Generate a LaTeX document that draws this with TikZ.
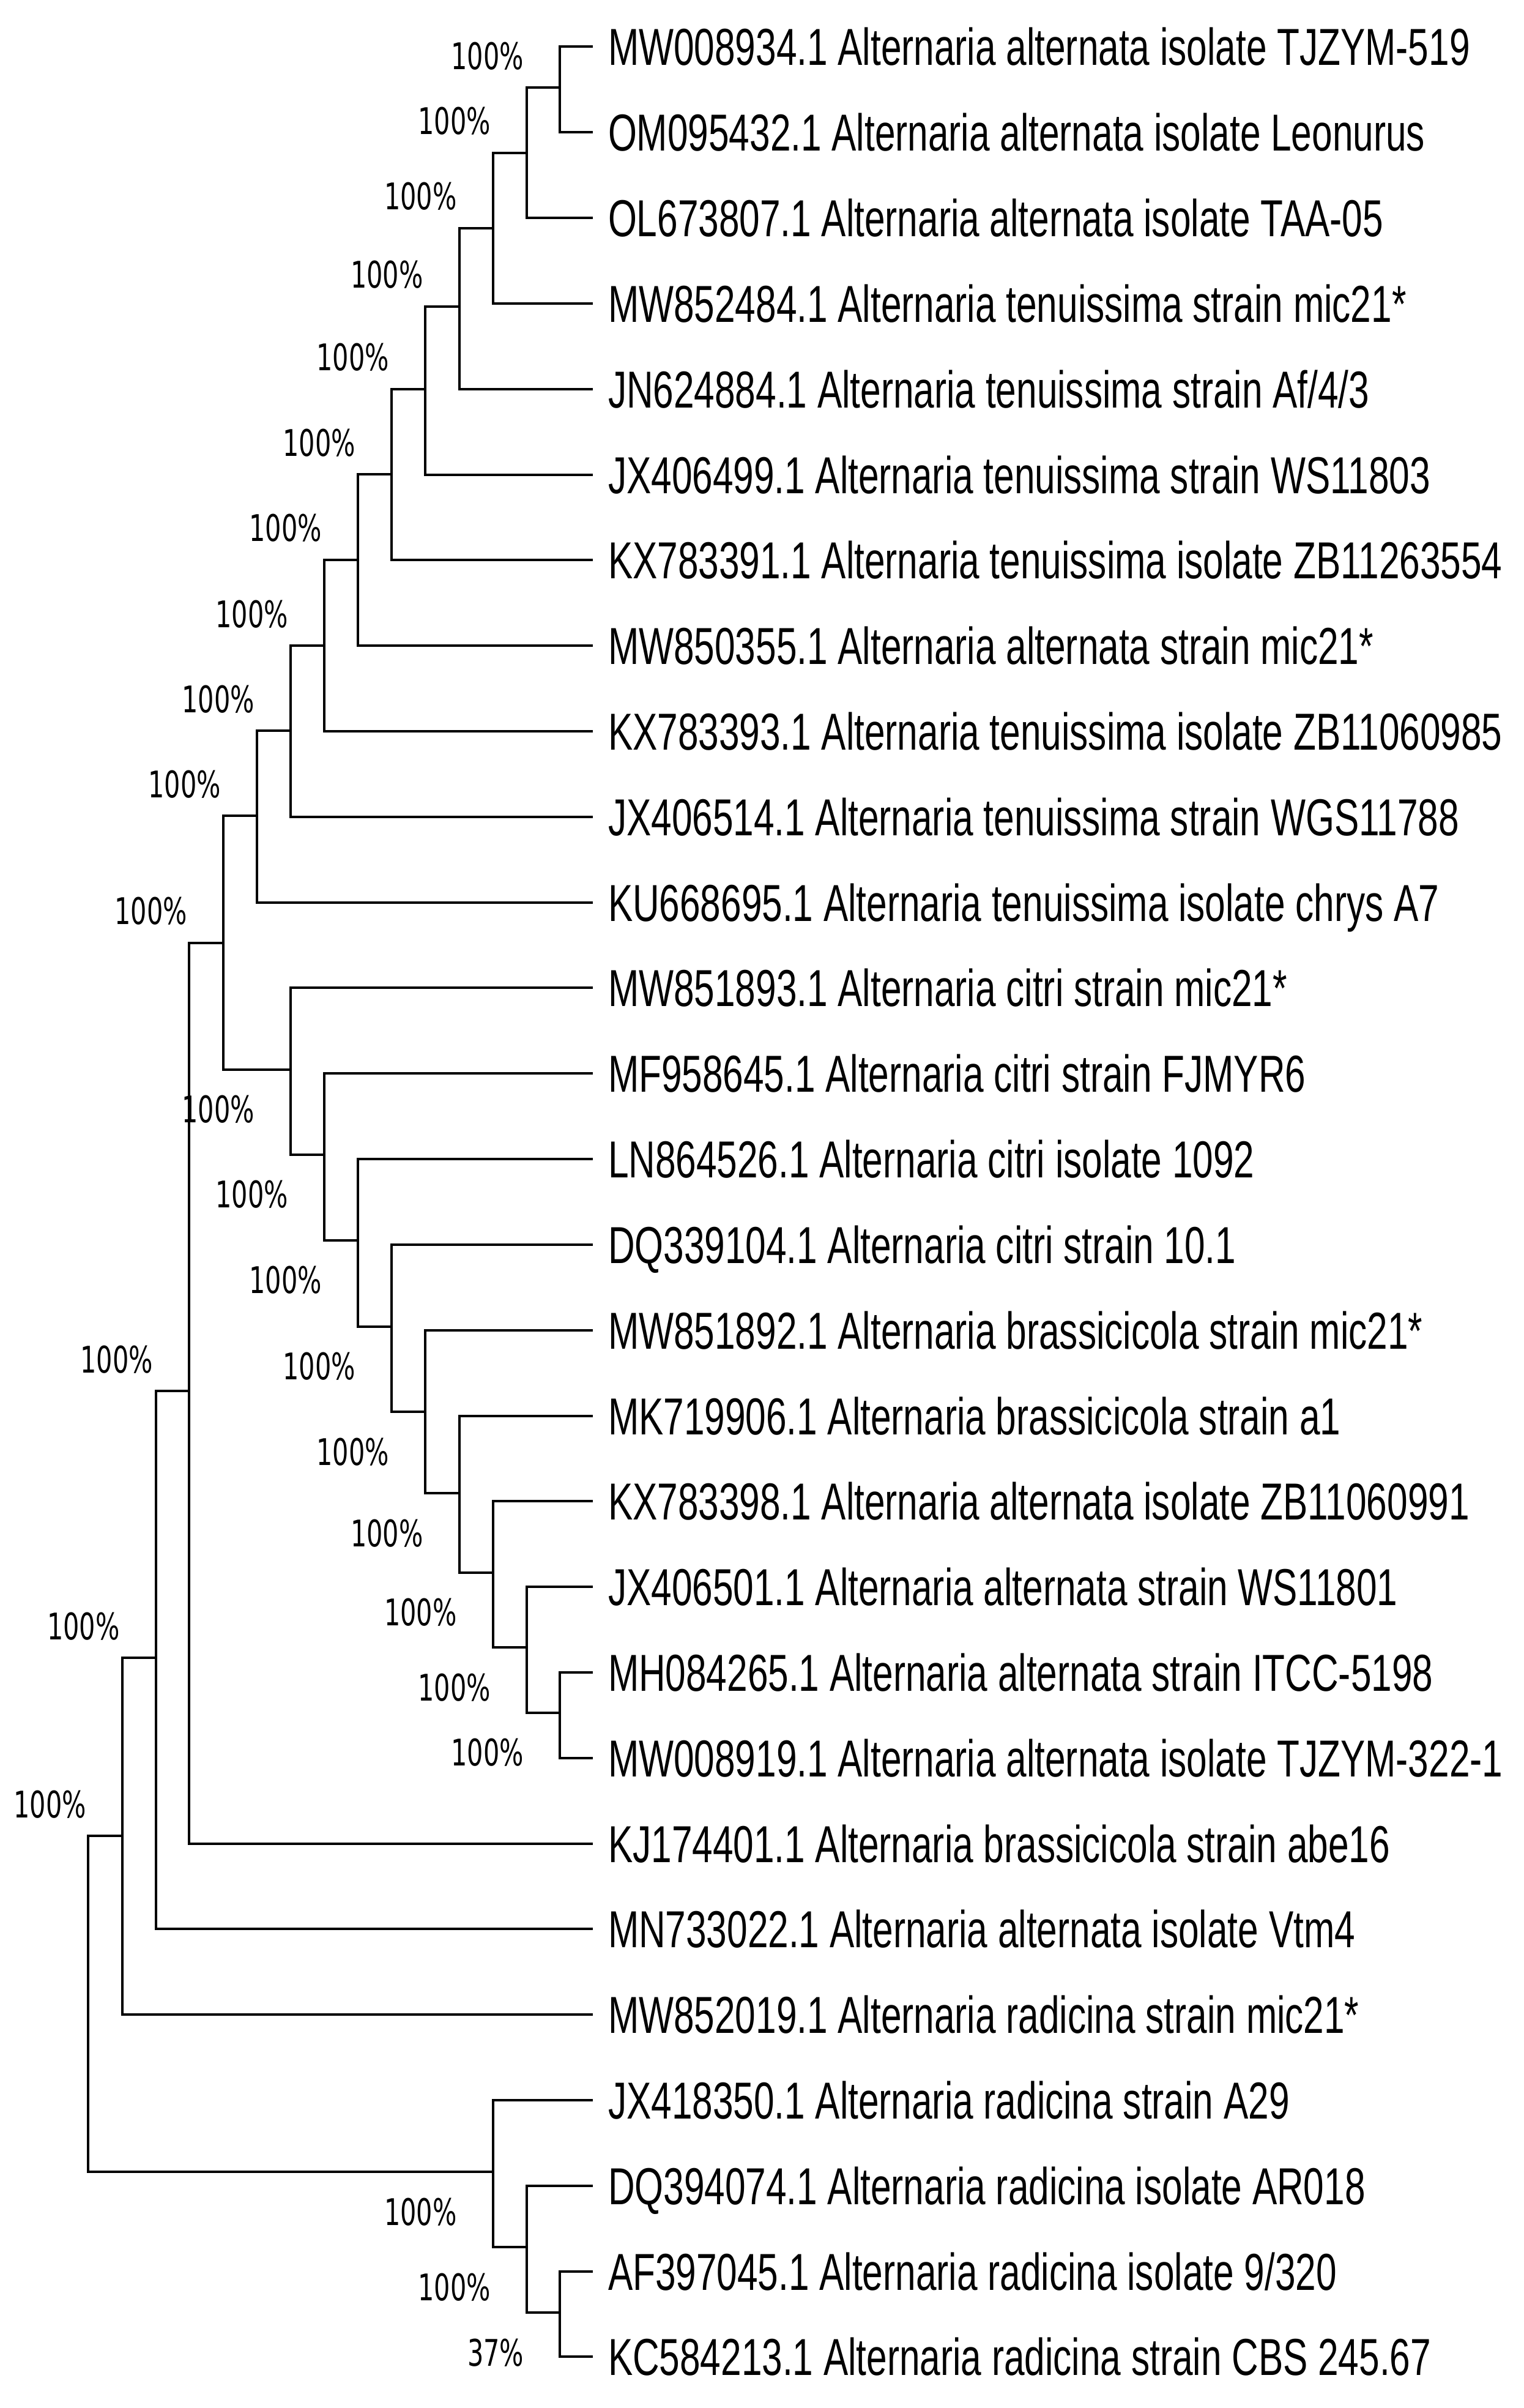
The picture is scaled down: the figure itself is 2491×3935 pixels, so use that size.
\documentclass[tikz,border=0pt]{standalone}
\usepackage{fontspec}
\newfontfamily\leaffont[FakeStretch=0.71]{Liberation Sans}
\newfontfamily\bootfont[FakeStretch=0.69]{DejaVu Sans}
\begin{document}
\begin{tikzpicture}[x=0.1pt,y=-0.1pt,
  branch/.style={line width=0.4pt,black},
  leaflab/.style={anchor=base west,inner sep=0pt,font=\leaffont\fontsize{8.5pt}{10pt}\selectfont},
  boot/.style={anchor=base east,inner sep=0pt,font=\bootfont\fontsize{6pt}{7pt}\selectfont}]
\useasboundingbox[fill=white] (0,0) rectangle (2491,3935);
% leaf tips
\coordinate (L1) at (969,76.5);
\coordinate (L2) at (969,216.3);
\coordinate (L3) at (969,356.1);
\coordinate (L4) at (969,495.9);
\coordinate (L5) at (969,635.7);
\coordinate (L6) at (969,775.6);
\coordinate (L7) at (969,915.4);
\coordinate (L8) at (969,1055.2);
\coordinate (L9) at (969,1195.0);
\coordinate (L10) at (969,1334.8);
\coordinate (L11) at (969,1474.6);
\coordinate (L12) at (969,1614.4);
\coordinate (L13) at (969,1754.2);
\coordinate (L14) at (969,1894.0);
\coordinate (L15) at (969,2033.8);
\coordinate (L16) at (969,2173.7);
\coordinate (L17) at (969,2313.5);
\coordinate (L18) at (969,2453.3);
\coordinate (L19) at (969,2593.1);
\coordinate (L20) at (969,2732.9);
\coordinate (L21) at (969,2872.7);
\coordinate (L22) at (969,3012.5);
\coordinate (L23) at (969,3152.3);
\coordinate (L24) at (969,3292.1);
\coordinate (L25) at (969,3431.9);
\coordinate (L26) at (969,3571.7);
\coordinate (L27) at (969,3711.6);
\coordinate (L28) at (969,3851.4);
% internal nodes
\coordinate (N1) at (915,143.5);
\coordinate (N2) at (861,250);
\coordinate (N3) at (805.5,373);
\coordinate (N4) at (750.6,500.6);
\coordinate (N5) at (695,636);
\coordinate (N6) at (640,775.5);
\coordinate (N7) at (585,915);
\coordinate (N8) at (530,1055.5);
\coordinate (N9) at (475,1194.5);
\coordinate (N10) at (420,1333.5);
\coordinate (N11) at (365,1541);
\coordinate (C1) at (475,1748);
\coordinate (C2) at (530,1886.5);
\coordinate (C3) at (585,2027);
\coordinate (C4) at (640,2167.7);
\coordinate (C5) at (695,2307.4);
\coordinate (C6) at (750.6,2440);
\coordinate (C7) at (805.5,2569.5);
\coordinate (C8) at (861,2692);
\coordinate (C9) at (915,2798.5);
\coordinate (N12) at (309,2273);
\coordinate (N13) at (254.5,2709);
\coordinate (N14) at (200,3000);
\coordinate (Root) at (144,3274.5);
\coordinate (R1) at (805.5,3549);
\coordinate (R2) at (861,3672);
\coordinate (R3) at (915,3779);
% branches
\foreach \p/\c in {N1/L1,N1/L2,N2/N1,N2/L3,N3/N2,N3/L4,N4/N3,N4/L5,N5/N4,N5/L6,
  N6/N5,N6/L7,N7/N6,N7/L8,N8/N7,N8/L9,N9/N8,N9/L10,N10/N9,N10/L11,N11/N10,N11/C1,
  C1/L12,C1/C2,C2/L13,C2/C3,C3/L14,C3/C4,C4/L15,C4/C5,C5/L16,C5/C6,C6/L17,C6/C7,
  C7/L18,C7/C8,C8/L19,C8/C9,C9/L20,C9/L21,N12/N11,N12/L22,N13/N12,N13/L23,
  N14/N13,N14/L24,Root/N14,Root/R1,R1/L25,R1/R2,R2/L26,R2/R3,R3/L27,R3/L28}
  \draw[branch] (\p) |- (\c);
% leaf labels
\node[leaflab] (t1) at ([xshift=2.3pt,yshift=-3.05pt]L1) {MW008934.1 Alternaria alternata isolate TJZYM-519};
\node[leaflab] (t2) at ([xshift=2.3pt,yshift=-3.05pt]L2) {OM095432.1 Alternaria alternata isolate Leonurus};
\node[leaflab] (t3) at ([xshift=2.3pt,yshift=-3.05pt]L3) {OL673807.1 Alternaria alternata isolate TAA-05};
\node[leaflab] (t4) at ([xshift=2.3pt,yshift=-3.05pt]L4) {MW852484.1 Alternaria tenuissima strain mic21*};
\node[leaflab] (t5) at ([xshift=2.3pt,yshift=-3.05pt]L5) {JN624884.1 Alternaria tenuissima strain Af/4/3};
\node[leaflab] (t6) at ([xshift=2.3pt,yshift=-3.05pt]L6) {JX406499.1 Alternaria tenuissima strain WS11803};
\node[leaflab] (t7) at ([xshift=2.3pt,yshift=-3.05pt]L7) {KX783391.1 Alternaria tenuissima isolate ZB11263554};
\node[leaflab] (t8) at ([xshift=2.3pt,yshift=-3.05pt]L8) {MW850355.1 Alternaria alternata strain mic21*};
\node[leaflab] (t9) at ([xshift=2.3pt,yshift=-3.05pt]L9) {KX783393.1 Alternaria tenuissima isolate ZB11060985};
\node[leaflab] (t10) at ([xshift=2.3pt,yshift=-3.05pt]L10) {JX406514.1 Alternaria tenuissima strain WGS11788};
\node[leaflab] (t11) at ([xshift=2.3pt,yshift=-3.05pt]L11) {KU668695.1 Alternaria tenuissima isolate chrys A7};
\node[leaflab] (t12) at ([xshift=2.3pt,yshift=-3.05pt]L12) {MW851893.1 Alternaria citri strain mic21*};
\node[leaflab] (t13) at ([xshift=2.3pt,yshift=-3.05pt]L13) {MF958645.1 Alternaria citri strain FJMYR6};
\node[leaflab] (t14) at ([xshift=2.3pt,yshift=-3.05pt]L14) {LN864526.1 Alternaria citri isolate 1092};
\node[leaflab] (t15) at ([xshift=2.3pt,yshift=-3.05pt]L15) {DQ339104.1 Alternaria citri strain 10.1};
\node[leaflab] (t16) at ([xshift=2.3pt,yshift=-3.05pt]L16) {MW851892.1 Alternaria brassicicola strain mic21*};
\node[leaflab] (t17) at ([xshift=2.3pt,yshift=-3.05pt]L17) {MK719906.1 Alternaria brassicicola strain a1};
\node[leaflab] (t18) at ([xshift=2.3pt,yshift=-3.05pt]L18) {KX783398.1 Alternaria alternata isolate ZB11060991};
\node[leaflab] (t19) at ([xshift=2.3pt,yshift=-3.05pt]L19) {JX406501.1 Alternaria alternata strain WS11801};
\node[leaflab] (t20) at ([xshift=2.3pt,yshift=-3.05pt]L20) {MH084265.1 Alternaria alternata strain ITCC-5198};
\node[leaflab] (t21) at ([xshift=2.3pt,yshift=-3.05pt]L21) {MW008919.1 Alternaria alternata isolate TJZYM-322-1};
\node[leaflab] (t22) at ([xshift=2.3pt,yshift=-3.05pt]L22) {KJ174401.1 Alternaria brassicicola strain abe16};
\node[leaflab] (t23) at ([xshift=2.3pt,yshift=-3.05pt]L23) {MN733022.1 Alternaria alternata isolate Vtm4};
\node[leaflab] (t24) at ([xshift=2.3pt,yshift=-3.05pt]L24) {MW852019.1 Alternaria radicina strain mic21*};
\node[leaflab] (t25) at ([xshift=2.3pt,yshift=-3.05pt]L25) {JX418350.1 Alternaria radicina strain A29};
\node[leaflab] (t26) at ([xshift=2.3pt,yshift=-3.05pt]L26) {DQ394074.1 Alternaria radicina isolate AR018};
\node[leaflab] (t27) at ([xshift=2.3pt,yshift=-3.05pt]L27) {AF397045.1 Alternaria radicina isolate 9/320};
\node[leaflab] (t28) at ([xshift=2.3pt,yshift=-3.05pt]L28) {KC584213.1 Alternaria radicina strain CBS 245.67};
% bootstrap labels above nodes
\foreach \n in {N1,N2,N3,N4,N5,N6,N7,N8,N9,N10,N11,N12,N13,N14}
  \node[boot] (b\n) at ([xshift=-5.7pt,yshift=3pt]\n) {100\%};
% bootstrap labels below nodes
\foreach \n in {C1,C2,C3,C4,C5,C6,C7,C8,C9,R1,R2}
  \node[boot] (b\n) at ([xshift=-5.7pt,yshift=-8.7pt]\n) {100\%};
\node[boot] (bR3) at ([xshift=-5.7pt,yshift=-8.7pt]R3) {37\%};
\end{tikzpicture}
\end{document}
